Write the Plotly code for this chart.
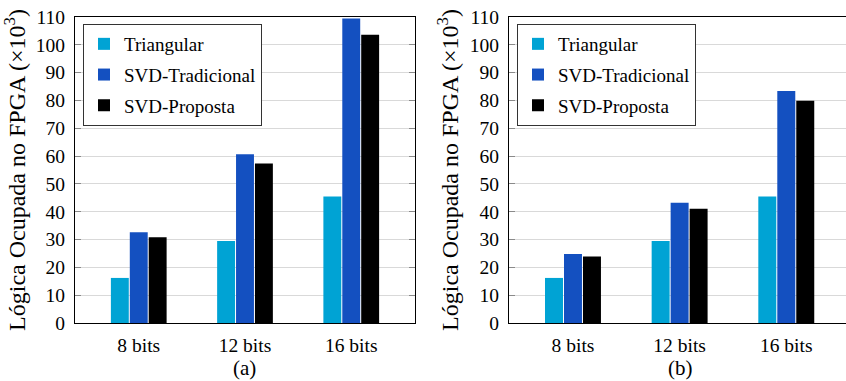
import plotly.graph_objects as go

categories = ["8 bits", "12 bits", "16 bits"]
series_names = ["Triangular", "SVD-Tradicional", "SVD-Proposta"]
colors = ["#00A3D4", "#1450C0", "#000000"]

# Panel (a)
a_triangular = [16.2, 29.5, 45.5]
a_svd_trad = [32.6, 60.7, 109.5]
a_svd_prop = [30.8, 57.3, 103.6]

# Panel (b)
b_triangular = [16.2, 29.5, 45.5]
b_svd_trad = [24.8, 43.2, 83.4]
b_svd_prop = [23.9, 41.1, 79.9]

y_ticks = list(range(0, 111, 10))
y_title = "Lógica Ocupada no FPGA (×10<sup>3</sup>)"

FONT = "Liberation Serif"
W, H = 846, 381
TOP, BOT = 17, 323
PH = BOT - TOP

fig = go.Figure()

panels = [
    ("x", "y", "legend", [a_triangular, a_svd_trad, a_svd_prop]),
    ("x2", "y2", "legend2", [b_triangular, b_svd_trad, b_svd_prop]),
]
for xa, ya, leg, vals in panels:
    for i, (name, v) in enumerate(zip(series_names, vals)):
        fig.add_trace(go.Bar(
            x=categories, y=v, name=name, marker_color=colors[i],
            marker_line_width=0, xaxis=xa, yaxis=ya, legend=leg,
            legendgroup=f"{leg}_{i}",
        ))

axis_common = dict(showline=True, linecolor="black", linewidth=1)
yaxis_common = dict(
    range=[0, 110], tickvals=y_ticks, ticks="inside", ticklen=6,
    tickcolor="#8a8a8a", showgrid=True, gridcolor="#d9d9d9", gridwidth=1,
    zeroline=False, tickfont=dict(family=FONT, size=19.5, color="black"),
    ticklabelstandoff=5,
    title=dict(text=y_title, font=dict(family=FONT, size=24, color="black"), standoff=4),
    **axis_common,
)
xaxis_common = dict(
    type="category", showgrid=False, ticks="", zeroline=False,
    tickfont=dict(family=FONT, size=19.5, color="black"), ticklabelstandoff=5,
    **axis_common,
)

dom_a = [75 / W, 415 / W]
dom_b = [509 / W, 1.0]

legend_common = dict(
    bgcolor="white", bordercolor="#333333", borderwidth=1,
    font=dict(family=FONT, size=19, color="black"),
    xanchor="left", yanchor="top", tracegroupgap=3, itemwidth=30,
)

fig.update_layout(
    width=W, height=H,
    margin=dict(l=0, r=0, t=TOP, b=H - BOT),
    paper_bgcolor="white", plot_bgcolor="white",
    barmode="group", bargap=0.466, bargroupgap=0.053,
    xaxis=dict(domain=dom_a, range=[-0.6, 2.6], mirror=True, anchor="y", **xaxis_common),
    yaxis=dict(anchor="x", mirror="ticks", **yaxis_common),
    xaxis2=dict(domain=dom_b, range=[-0.6, 2.56], mirror=True, anchor="y2", **xaxis_common),
    yaxis2=dict(anchor="x2", mirror=False, **yaxis_common),
    legend=dict(x=83 / W, y=1 - (24 - TOP) / PH, **legend_common),
    legend2=dict(x=(83 + 434) / W, y=1 - (24 - TOP) / PH, **legend_common),
    showlegend=True,
)

for label, cx in (("(a)", 245), ("(b)", 680)):
    fig.add_annotation(
        text=label, x=cx / W, y=(BOT - 368) / PH, xref="paper", yref="paper",
        showarrow=False, yanchor="middle", xanchor="center",
        font=dict(family=FONT, size=21, color="black"),
    )

fig.write_html(
    "out.html",
    config={"displayModeBar": False},
    post_script="document.body.style.margin='0';document.body.style.overflow='hidden';",
)
